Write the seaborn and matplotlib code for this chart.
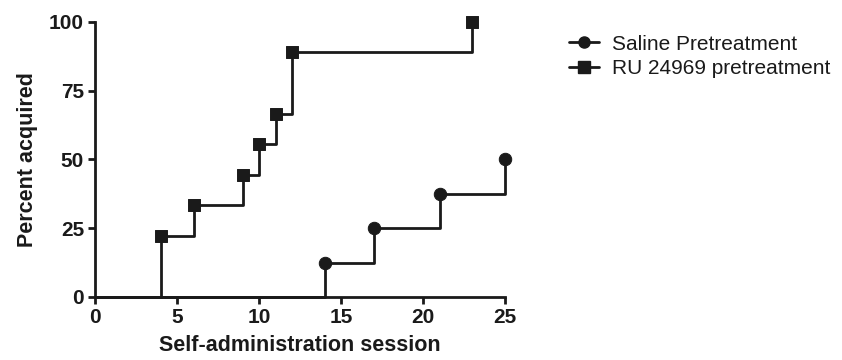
import numpy as np
import pandas as pd
import matplotlib
matplotlib.use('Agg')
import matplotlib.pyplot as plt
from matplotlib.lines import Line2D
import seaborn as sns

# 数据：每次获得事件的 session 与累计百分比
saline_session = [0, 14, 17, 21, 25]
saline_pct = [0, 12.5, 25.0, 37.5, 50.0]
ru_session = [0, 4, 6, 9, 10, 11, 12, 23]
ru_pct = [0, 22.2, 33.3, 44.4, 55.6, 66.7, 88.9, 100.0]

saline_label = 'Saline Pretreatment'
ru_label = 'RU 24969 pretreatment'
x_ticks = [0, 5, 10, 15, 20, 25]
y_ticks = [0, 25, 50, 75, 100]

sns.set_style('ticks')
plt.rcParams['font.family'] = ['Liberation Sans', 'DejaVu Sans']

saline = pd.DataFrame({'session': saline_session, 'pct': saline_pct})
ru = pd.DataFrame({'session': ru_session, 'pct': ru_pct})

c = '#1a1a1a'
fig = plt.figure(figsize=(8.42, 3.6), dpi=100)
ax = fig.add_axes([0.113, 0.175, 0.487, 0.764])

# 阶梯线
sns.lineplot(data=saline, x='session', y='pct', drawstyle='steps-post', color=c,
             lw=2, ax=ax, clip_on=False, estimator=None, sort=False)
sns.lineplot(data=ru, x='session', y='pct', drawstyle='steps-post', color=c,
             lw=2, ax=ax, clip_on=False, estimator=None, sort=False)
# 标记点（不含起点）
sns.scatterplot(data=saline.iloc[1:], x='session', y='pct', marker='o', s=80,
                color=c, edgecolor=c, ax=ax, clip_on=False, zorder=5)
sns.scatterplot(data=ru.iloc[1:], x='session', y='pct', marker='s', s=75,
                color=c, edgecolor=c, ax=ax, clip_on=False, zorder=5)

ax.set_xlim(0, 25)
ax.set_ylim(0, 100)
ax.set_xticks(x_ticks)
ax.set_yticks(y_ticks)
for lab in ax.get_xticklabels() + ax.get_yticklabels():
    lab.set_fontweight('bold')
    lab.set_fontsize(15)
ax.tick_params(width=2, length=5, pad=3, color=c, labelcolor=c)
ax.set_xlabel('Self-administration session', fontsize=15.5, fontweight='bold',
              color=c, labelpad=6)
ax.set_ylabel('Percent acquired', fontsize=15.5, fontweight='bold', color=c,
              labelpad=8)
sns.despine(ax=ax)
for s in ['left', 'bottom']:
    ax.spines[s].set_linewidth(2)
    ax.spines[s].set_color(c)

handles = [Line2D([], [], color=c, lw=2, marker='o', markersize=8),
           Line2D([], [], color=c, lw=2, marker='s', markersize=8)]
ax.legend(handles, [saline_label, ru_label], loc='upper left',
          bbox_to_anchor=(1.11, 1.022), frameon=False, fontsize=15,
          handlelength=1.45, handletextpad=0.6, labelspacing=0.25, labelcolor=c)

fig.savefig('out.png', dpi=100)
